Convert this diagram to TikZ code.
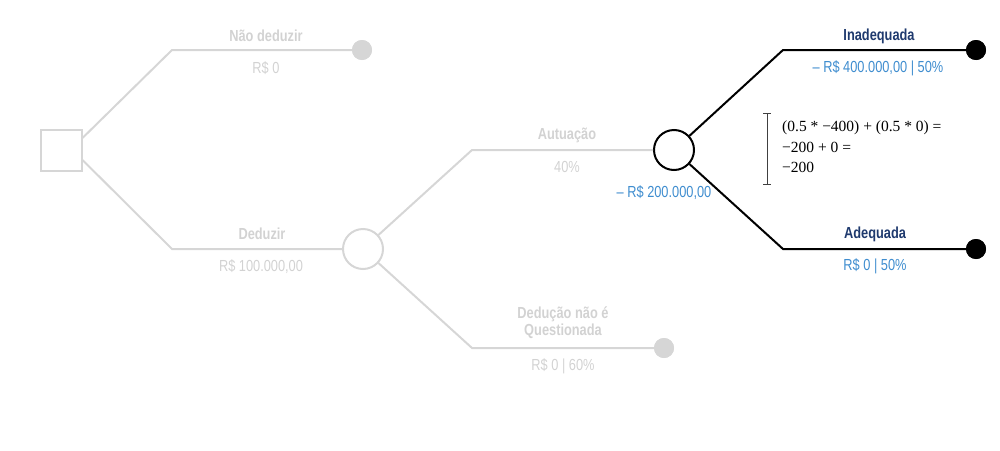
\documentclass[tikz,border=0pt]{standalone}
\usepackage{fontspec}
\setmainfont{Liberation Sans}[FakeStretch=0.8]
\newfontfamily\eqfont{Liberation Serif}
\definecolor{lgray}{HTML}{D6D6D6}
\definecolor{tgray}{HTML}{D2D2D2}
\definecolor{lblue}{HTML}{3F8DCF}
\definecolor{dblue}{HTML}{1F3A6E}
\begin{document}
\begin{tikzpicture}[x=1pt,y=-1pt,
  grayline/.style={draw=lgray,line width=2pt},
  blackline/.style={draw=black,line width=2pt},
  lbl/.style={font=\fontsize{16}{19}\selectfont,inner sep=0pt,anchor=center},
  glbl/.style={lbl,text=tgray},
  gbold/.style={glbl,font=\fontsize{16}{19}\selectfont\bfseries},
  blbl/.style={lbl,text=lblue},
  dbold/.style={lbl,text=dblue,font=\fontsize{16}{19}\selectfont\bfseries},
  graydot/.style={circle,fill=lgray,minimum size=20pt,inner sep=0pt},
  blackdot/.style={circle,fill=black,minimum size=20pt,inner sep=0pt},
  chance/.style={circle,minimum size=40pt,inner sep=0pt,line width=2pt}
]
\useasboundingbox (0,0) rectangle (1000,450);
% nodes
\node[draw=lgray,line width=2pt,minimum size=41pt,inner sep=0pt] (sq) at (61,150) {};
\node[chance,draw=lgray] (c1) at (363,249) {};
\node[chance,draw=black] (c2) at (674,150) {};
\node[graydot] (e1) at (362,50) {};
\node[graydot] (e3) at (664,348) {};
\node[blackdot] (e4) at (976,50) {};
\node[blackdot] (e5) at (976,249) {};
\coordinate (k1) at (172,50);
\coordinate (k2) at (172,249);
\coordinate (k3) at (472,150);
\coordinate (k4) at (472,348);
\coordinate (k5) at (783,50);
\coordinate (k6) at (783,249);
% connectors
\draw[grayline] ([yshift=12pt]sq.east) -- (k1) -- (e1.center);
\draw[grayline] ([yshift=-10pt]sq.east) -- (k2) -- (c1);
\draw[grayline] (c1) -- (k3) -- (c2);
\draw[grayline] (c1) -- (k4) -- (e3.center);
\draw[blackline] (c2) -- (k5) -- (e4.center);
\draw[blackline] (c2) -- (k6) -- (e5.center);
\node[graydot] at (e1) {};
\node[graydot] at (e3) {};
\node[blackdot] at (e4) {};
\node[blackdot] at (e5) {};
% labels
\node[gbold] (l1) at (266,36) {Não deduzir};
\node[glbl] (l2) at (266,68) {R\$ 0};
\node[gbold] (l3) at (262,234) {Deduzir};
\node[glbl] (l4) at (261,267) {R\$ 100.000,00};
\node[gbold] (l5) at (567,135) {Autuação};
\node[glbl] (l6) at (567,167) {40\%};
\node[blbl] (l7) at (664,193) {– R\$ 200.000,00};
\node[gbold,align=center] (l8) at (563,323) {Dedução não é\\[-2pt]Questionada};
\node[glbl] (l9) at (563,366) {R\$ 0 | 60\%};
\node[dbold] (l10) at (879,36) {Inadequada};
\node[blbl] (l11) at (878,68) {– R\$ 400.000,00 | 50\%};
\node[dbold] (l12) at (875,234) {Adequada};
\node[blbl] (l13) at (875,266) {R\$ 0 | 50\%};
% equation
\draw[draw=black!75,line width=1pt] (767,113) -- (767,184)
  (763,113) -- (771,113) (763,184) -- (771,184);
\node[anchor=north west,inner sep=0pt,align=left,
  font=\eqfont\fontsize{15.5}{20.5}\selectfont] (eq) at (782,121)
  {(0.5 * −400) + (0.5 * 0) =\\−200 + 0 =\\−200};
\end{tikzpicture}
\end{document}
